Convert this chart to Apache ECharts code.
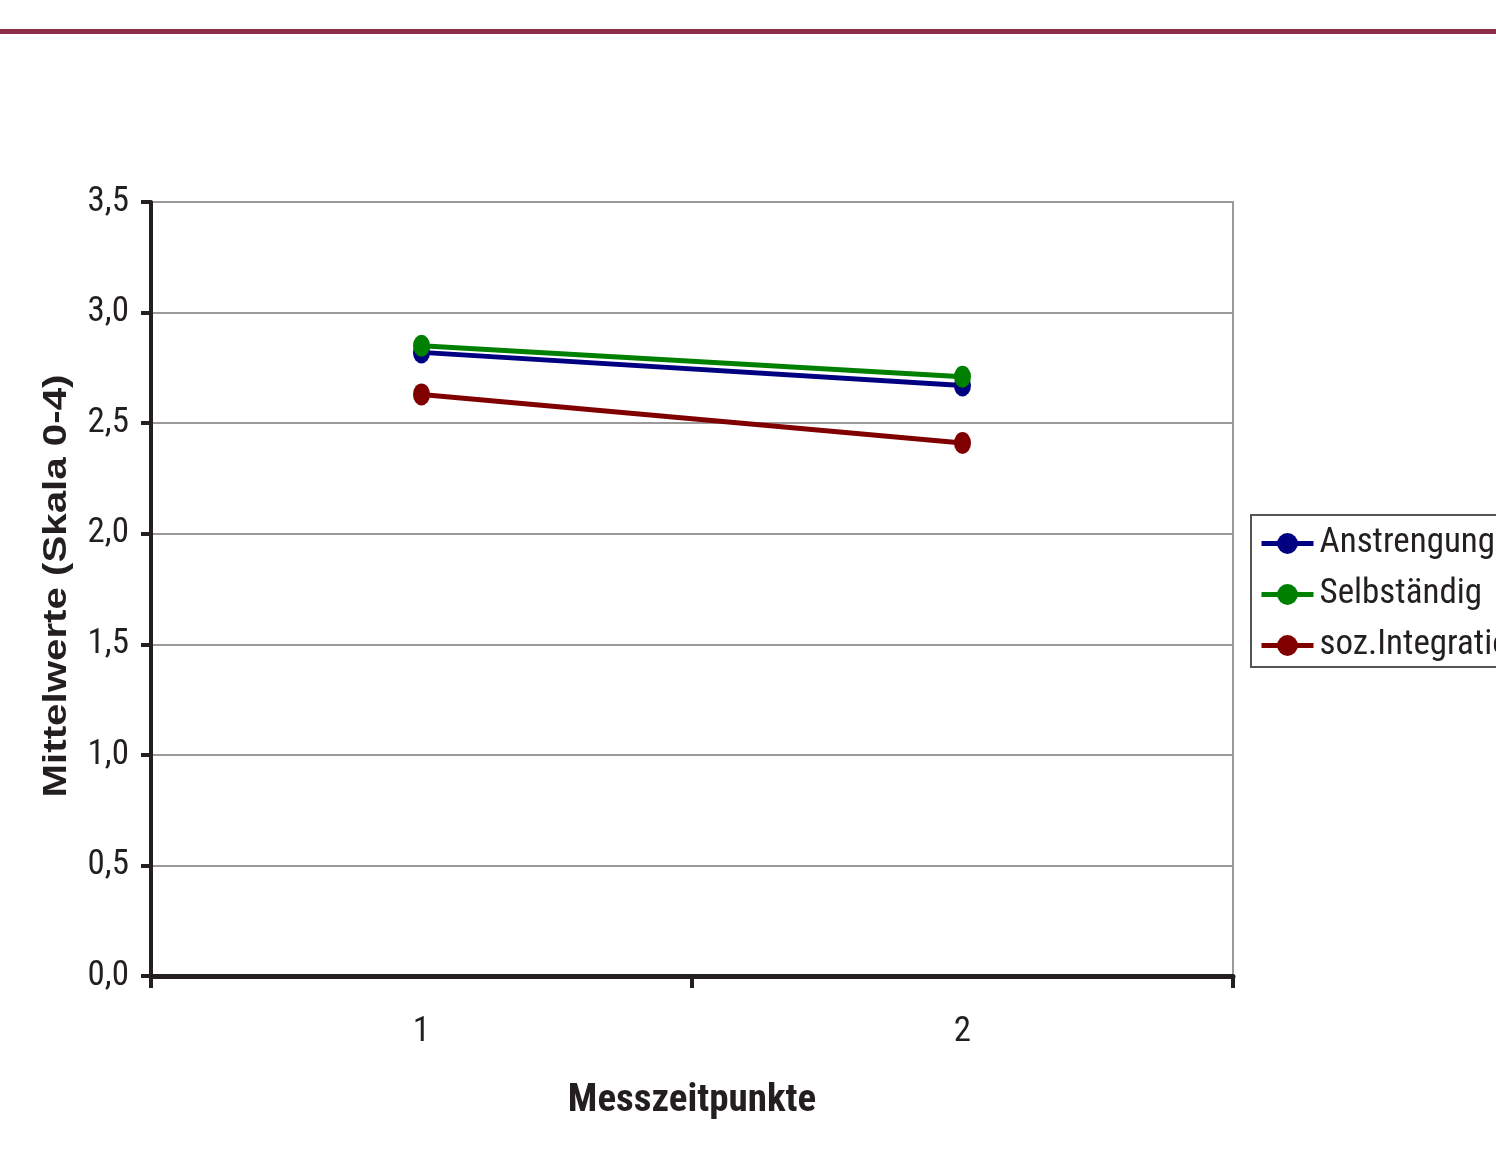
<!DOCTYPE html>
<html>
<head>
<meta charset="utf-8">
<style>
  html, body { margin: 0; padding: 0; background: #fff; }
  #chart { width: 1496px; height: 1151px; }
</style>
<script src="https://cdn.jsdelivr.net/npm/echarts@6/dist/echarts.min.js"></script>
</head>
<body>
<div id="chart"></div>
<script>
const categories = ['1', '2'];
const anstrengung = [2.82, 2.67];
const selbstaendig = [2.85, 2.71];
const sozIntegration = [2.63, 2.41];
const seriesNames = ['Anstrengung', 'Selbständig', 'soz.Integration'];
const yTitle = 'Mittelwerte (Skala 0-4)';
const xTitle = 'Messzeitpunkte';

const ink = '#231f20';
const narrow = '"Roboto Condensed", "Liberation Sans", Arial, sans-serif';

const chart = echarts.init(document.getElementById('chart'), null, { renderer: 'canvas' });

function mkSeries(name, data, color) {
  return {
    name: name,
    type: 'line',
    data: data,
    symbol: 'circle',
    symbolSize: [17, 22],
    lineStyle: { color: color, width: 5 },
    itemStyle: { color: color },
    animation: false
  };
}

chart.setOption({
  animation: false,
  backgroundColor: '#ffffff',
  grid: {
    left: 151, top: 202, right: 263, bottom: 175,
    show: true, borderColor: '#9a9a9a', borderWidth: 2
  },
  xAxis: {
    type: 'category',
    data: categories,
    boundaryGap: true,
    axisLine: { lineStyle: { color: ink, width: 5 } },
    axisTick: { show: true, length: 12, lineStyle: { color: ink, width: 4 } },
    axisLabel: { color: ink, fontSize: 35, fontFamily: narrow, margin: 39 },
    splitLine: { show: false },
    name: xTitle,
    nameLocation: 'middle',
    nameGap: 106,
    nameTextStyle: { color: ink, fontSize: 39, fontWeight: 'bold', fontFamily: narrow }
  },
  yAxis: {
    type: 'value',
    min: 0, max: 3.5, interval: 0.5,
    axisLine: { show: true, lineStyle: { color: ink, width: 4 } },
    axisTick: { show: true, length: 10, lineStyle: { color: ink, width: 4 } },
    axisLabel: {
      color: ink, fontSize: 35, fontFamily: narrow, margin: 22,
      formatter: v => v.toFixed(1).replace('.', ',')
    },
    splitLine: { show: true, lineStyle: { color: '#9a9a9a', width: 2 } }
  },
  legend: {
    data: seriesNames,
    orient: 'vertical',
    left: 1251, top: 515,
    padding: [11, 12, 4, 8],
    itemGap: 16,
    itemWidth: 52,
    itemHeight: 26,
    backgroundColor: '#fff',
    borderColor: '#555',
    borderWidth: 2,
    borderRadius: 0,
    lineStyle: { width: 5 },
    textStyle: { color: ink, fontSize: 35, fontFamily: narrow, padding: [0, 0, 0, 1] }
  },
  series: [
    mkSeries(seriesNames[0], anstrengung, '#000080'),
    mkSeries(seriesNames[1], selbstaendig, '#008000'),
    mkSeries(seriesNames[2], sozIntegration, '#800000')
  ],
  graphic: [
    { type: 'rect', shape: { x: 0, y: 29, width: 1496, height: 5 }, style: { fill: '#8c2d4a' }, z: 10 },
    {
      type: 'text', x: 57, y: 586, rotation: Math.PI / 2, scaleX: 1.22,
      style: {
        text: yTitle, fill: ink, font: 'bold 33px "Liberation Sans", Arial, sans-serif',
        textAlign: 'center', textVerticalAlign: 'middle'
      }, z: 10
    }
  ]
});
</script>
</body>
</html>
